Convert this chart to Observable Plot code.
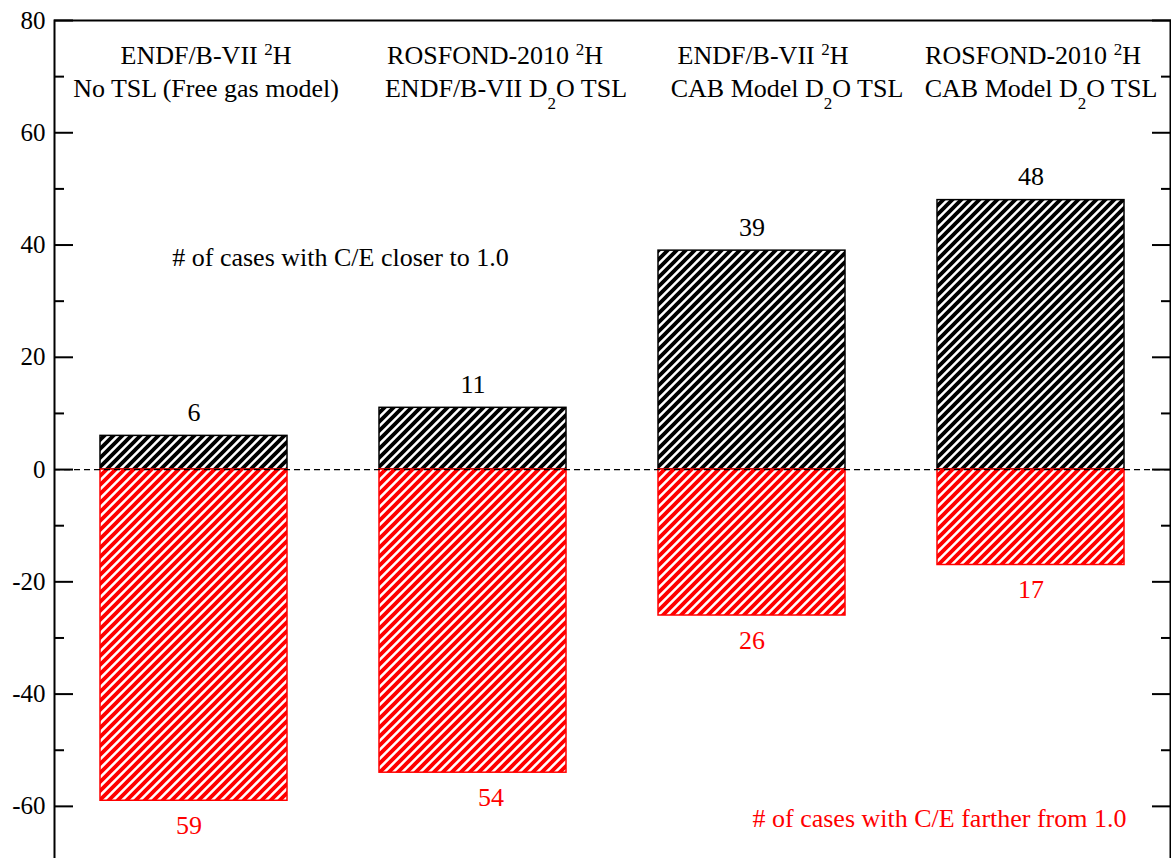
<!DOCTYPE html>
<html><head><meta charset="utf-8">
<script src="https://cdn.jsdelivr.net/npm/d3@7"></script>
<script src="https://cdn.jsdelivr.net/npm/@observablehq/plot@0.6"></script>
<style>
html,body{margin:0;padding:0;background:#fff;overflow:hidden}
#chart{width:1171px;height:858px;overflow:hidden;position:relative}
</style></head><body><div id="chart"></div>
<script>
// ---- data ----
const categories = ["ENDF/B-VII 2H, free gas", "ROSFOND-2010 2H, ENDF/B-VII D2O", "ENDF/B-VII 2H, CAB D2O", "ROSFOND-2010 2H, CAB D2O"];
const libraryLines = ["ENDF/B-VII ^{2}H", "ROSFOND-2010 ^{2}H", "ENDF/B-VII ^{2}H", "ROSFOND-2010 ^{2}H"];
const tslLines = ["No TSL (Free gas model)", "ENDF/B-VII D_{2}O TSL", "CAB Model D_{2}O TSL", "CAB Model D_{2}O TSL"];
const closerCounts = [6, 11, 39, 48];
const fartherCounts = [59, 54, 26, 17];
const yMajorTicks = [-60, -40, -20, 0, 20, 40, 60, 80];
const yMinorTicks = [-50, -30, -10, 10, 30, 50, 70];
const closerNote = "# of cases with C/E closer to 1.0";
const fartherNote = "# of cases with C/E farther from 1.0";

// ---- table ----
const rows = categories.map((c, i) => ({cat: c, closer: closerCounts[i], farther: fartherCounts[i], lib: libraryLines[i], tsl: tslLines[i]}));

// manual label nudges (px), as in the original figure
const headerDx = [[12, 12], [22, 33], [11, 35], [2, 10]];
const fartherDx = [-5, 18, 0, 0];

const marks = [
  Plot.barY(rows, {x: "cat", y1: 0, y2: "closer", fill: "url(#hatch-black)", stroke: "black", strokeWidth: 1.5}),
  Plot.barY(rows, {x: "cat", y1: 0, y2: d => -d.farther, fill: "url(#hatch-red)", stroke: "red", strokeWidth: 1.5}),
  Plot.ruleY([0], {stroke: "black", strokeWidth: 1.2, strokeDasharray: "6,4"}),
  Plot.frame({strokeWidth: 2}),
  Plot.axisY({anchor: "left", ticks: yMajorTicks, tickSize: -19, tickPadding: 28, strokeWidth: 2, tickFormat: d => String(d), fontSize: 25, label: null}),
  Plot.axisY({anchor: "left", ticks: yMinorTicks, tickSize: -10, strokeWidth: 2, tickFormat: () => "", label: null}),
  Plot.axisY({anchor: "right", ticks: yMajorTicks, tickSize: -19, strokeWidth: 2, tickFormat: () => "", label: null}),
  Plot.axisY({anchor: "right", ticks: yMinorTicks, tickSize: -10, strokeWidth: 2, tickFormat: () => "", label: null}),
  Plot.text(rows, {x: "cat", y: "closer", text: d => String(d.closer), lineAnchor: "bottom", dy: -15, fill: "black"}),
  ...rows.map((r, i) => Plot.text([r], {x: "cat", y: d => -d.farther, text: d => String(d.farther), lineAnchor: "bottom", dy: 33, dx: fartherDx[i], fill: "red"})),
  ...rows.flatMap((r, i) => [
    Plot.text([r], {x: "cat", text: "lib", frameAnchor: "top", dy: 43, dx: headerDx[i][0], lineAnchor: "bottom", fill: "black"}),
    Plot.text([r], {x: "cat", text: "tsl", frameAnchor: "top", dy: 76, dx: headerDx[i][1], lineAnchor: "bottom", fill: "black"})
  ]),
  Plot.text([closerNote], {text: d => d, frameAnchor: "top-left", dx: 286, dy: 245, lineAnchor: "bottom", textAnchor: "middle", fill: "black"}),
  Plot.text([fartherNote], {text: d => d, frameAnchor: "top-left", dx: 885, dy: 806, lineAnchor: "bottom", textAnchor: "middle", fill: "red"})
];

const svg = Plot.plot({
  width: 1171, height: 862,
  marginLeft: 54, marginRight: 1, marginTop: 20, marginBottom: 0,
  style: {fontFamily: "'Liberation Serif', 'Times New Roman', serif", fontSize: "26px", background: "white", overflow: "visible"},
  x: {type: "band", domain: categories, paddingInner: 0.33, paddingOuter: 0.165, axis: null},
  y: {domain: [-70, 80]},
  marks
});

// hatch patterns
const defs = d3.select(svg).insert("defs", ":first-child");
function hatch(id, color) {
  const s = 9;
  const p = defs.append("pattern").attr("id", id).attr("patternUnits", "userSpaceOnUse").attr("width", s).attr("height", s);
  p.append("rect").attr("width", s).attr("height", s).attr("fill", "white");
  p.append("path").attr("d", `M-2,2L2,-2M0,${s}L${s},0M${s - 2},${s + 2}L${s + 2},${s - 2}`).attr("stroke", color).attr("stroke-width", 3.8);
}
hatch("hatch-black", "black");
hatch("hatch-red", "red");

// super/subscripts
d3.select(svg).selectAll("text").each(function () {
  const s = this.textContent;
  if (!/[\^_]\{/.test(s)) return;
  const parts = s.split(/([\^_]\{[^}]*\})/).filter(p => p !== "");
  while (this.firstChild) this.removeChild(this.firstChild);
  let shift = 0;
  for (const p of parts) {
    const m = p.match(/^([\^_])\{([^}]*)\}$/);
    const ts = document.createElementNS("http://www.w3.org/2000/svg", "tspan");
    if (m) {
      const target = m[1] === "^" ? -9 : 12;
      ts.setAttribute("dy", target - shift);
      shift = target;
      ts.setAttribute("font-size", "17");
      ts.textContent = m[2];
    } else {
      if (shift) ts.setAttribute("dy", -shift);
      shift = 0;
      ts.textContent = p;
    }
    this.appendChild(ts);
  }
});

document.getElementById("chart").appendChild(svg);
</script>
</body></html>
